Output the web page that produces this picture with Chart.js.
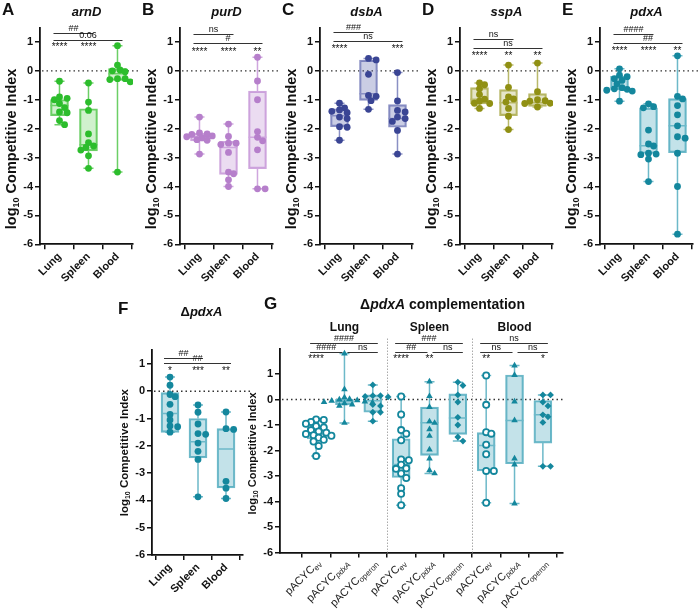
<!DOCTYPE html>
<html lang="en">
<head>
<meta charset="UTF-8">
<title>Competitive index</title>
<script src="https://cdn.jsdelivr.net/npm/chart.js"></script>
<style>
  body { margin: 0; background: #fff; }
  #fig { position: relative; width: 700px; height: 611px; overflow: hidden; }
  #fig canvas { position: absolute; }
</style>
</head>
<body>
<div id="fig"></div>
<script>
const FONT = '"Liberation Sans", Arial, sans-serif';

const organs = ['Lung', 'Spleen', 'Blood'];
const yTickVals = [1, 0, -1, -2, -3, -4, -5, -6];
const plasmids = ['ev', 'pdxA', 'operon'];

// A  arnD
const arnDLung = [-0.36, -0.9, -0.95, -1.0, -1.13, -1.27, -1.42, -1.45, -1.72, -1.86];
const arnDSpleen = [-0.42, -1.08, -1.37, -2.18, -2.48, -2.6, -2.65, -2.74, -2.94, -3.37];
const arnDBlood = [0.87, 0.2, 0.03, 0.0, -0.03, -0.27, -0.27, -0.3, -0.38, -3.5];
const arnDBox = [[-1.55, -1.2, -0.99], [-2.77, -2.56, -1.31], [-0.33, -0.1, 0.08]]; // q1, median, q3
const arnDStars = ['****', '****', ''];
const arnDTests = [[0, 1, '##', 1], [0, 2, '0.06', 0]];

// B  purD
const purDLung = [-1.6, -2.15, -2.18, -2.2, -2.25, -2.28, -2.32, -2.38, -2.4, -2.88];
const purDSpleen = [-1.84, -2.27, -2.5, -2.5, -2.55, -2.82, -3.5, -3.56, -3.77, -4.0];
const purDBlood = [0.47, -0.35, -1.0, -2.1, -2.3, -2.42, -2.73, -4.08, -4.08];
const purDBox = [[-2.42, -2.28, -2.16], [-3.58, -2.65, -2.44], [-3.38, -2.3, -0.7]];
const purDStars = ['****', '****', '**'];
const purDTests = [[0, 1, 'ns', 1], [0, 2, '#', 0]];

// C  dsbA
const dsbALung = [-1.12, -1.28, -1.35, -1.4, -1.45, -1.6, -1.65, -1.93, -1.95, -2.4];
const dsbASpleen = [0.43, 0.38, -0.12, -0.85, -0.88, -1.03, -1.33];
const dsbABlood = [-0.06, -1.04, -1.37, -1.42, -1.6, -1.65, -1.75, -2.06, -2.88];
const dsbABox = [[-1.93, -1.55, -1.31], [-1.02, -0.79, 0.37], [-1.95, -1.65, -1.17]];
const dsbAStars = ['****', '', '***'];
const dsbATests = [[0, 1, '###', 1], [0, 2, 'ns', 0]];

// D  sspA
const sspALung = [-0.42, -0.48, -0.62, -0.82, -0.98, -1.05, -1.12, -1.13, -1.3];
const sspASpleen = [0.2, -0.57, -0.9, -0.97, -1.08, -1.3, -1.57, -2.03];
const sspABlood = [0.27, -0.72, -1.0, -1.03, -1.05, -1.12, -1.13, -1.25];
const sspABox = [[-1.14, -0.98, -0.58], [-1.55, -1.1, -0.65], [-1.23, -1.1, -0.79]];
const sspAStars = ['****', '**', '**'];
const sspATests = [[0, 1, 'ns', 1], [0, 2, 'ns', 0]];

// E  pdxA
const pdxALung = [0.07, -0.15, -0.2, -0.27, -0.33, -0.45, -0.58, -0.62, -0.64, -0.67, -0.7, -1.05];
const pdxASpleen = [-1.14, -1.24, -1.28, -2.05, -2.53, -2.6, -2.85, -2.88, -2.9, -3.05, -3.83];
const pdxABlood = [0.52, -0.88, -0.97, -1.2, -1.52, -1.9, -2.28, -2.33, -2.85, -4.0, -5.65];
const pdxABox = [[-0.65, -0.58, -0.19], [-2.86, -2.59, -1.28], [-2.83, -1.9, -0.96]];
const pdxAStars = ['****', '****', '**'];
const pdxATests = [[0, 1, '####', 1], [0, 2, '##', 0]];

// F  ΔpdxA
const dPdxALung = [0.52, 0.22, -0.12, -0.2, -0.48, -0.85, -1.05, -1.27, -1.3, -1.5];
const dPdxASpleen = [-0.5, -0.77, -1.2, -1.55, -1.58, -1.9, -2.2, -2.5, -3.87];
const dPdxABlood = [-0.76, -1.37, -1.4, -3.3, -3.55, -3.93];
const dPdxABox = [[-1.51, -0.82, -0.05], [-2.44, -1.85, -1.0], [-3.54, -2.12, -1.37]];
const dPdxAStars = ['*', '***', '**'];
const dPdxATests = [[0, 1, '##', 1], [0, 2, '##', 0]];

// G  ΔpdxA complementation (Lung ev, pdxA, operon, Spleen ..., Blood ...)
const compLungEv = [-0.78, -0.8, -0.88, -0.95, -1.05, -1.1, -1.2, -1.25, -1.3, -1.35, -1.4, -1.42, -1.5, -1.58, -1.65, -1.82, -2.22];
const compLungPdxA = [1.8, 0.4, 0.08, 0.02, 0.0, -0.03, -0.05, -0.08, -0.1, -0.12, -0.15, -0.2, -0.25, -0.92];
const compLungOperon = [0.57, 0.15, 0.15, 0.12, 0.1, -0.2, -0.25, -0.5, -0.5, -0.85];
const compSpleenEv = [0.12, -0.59, -1.2, -1.34, -1.6, -2.35, -2.38, -2.56, -2.7, -2.72, -2.9, -3.08, -3.48, -3.7, -4.15];
const compSpleenPdxA = [0.7, 0.13, -0.3, -0.86, -0.92, -1.17, -1.43, -1.96, -2.32, -2.78, -2.9];
const compSpleenOperon = [0.68, 0.55, 0.18, -0.1, -0.7, -1.0, -1.47, -1.63];
const compBloodEv = [0.94, -0.21, -1.28, -1.34, -1.77, -2.15, -2.8, -2.8, -4.05];
const compBloodPdxA = [1.33, 0.96, -0.08, -0.82, -2.32, -2.55, -4.08];
const compBloodOperon = [0.18, 0.18, -0.1, -0.25, -0.6, -0.68, -0.9, -2.62, -2.62];
const compBox = [
  [-1.55, -1.35, -1.1], [-0.2, -0.08, 0.02], [-0.5, -0.05, 0.18],
  [-3.06, -2.55, -1.54], [-2.19, -0.91, -0.3], [-1.37, -0.73, 0.22],
  [-2.8, -1.8, -1.3], [-2.52, -0.82, 0.96], [-1.71, -0.6, -0.04]
];
const compStars = ['****', '', '', '****', '**', '', '**', '', '*'];
const compTests = [
  [0, 1, '####', 0], [1, 2, 'ns', 0], [0, 2, '####', 1],
  [3, 4, '##', 0], [4, 5, 'ns', 0], [3, 5, '###', 1],
  [6, 7, 'ns', 0], [7, 8, 'ns', 0], [6, 8, 'ns', 1]
];

const green = { pt: '#2cbd2c', fill: 'rgba(110,210,100,0.32)', line: '#6ccf66' };
const lilac = { pt: '#b67fcb', fill: 'rgba(190,140,210,0.3)', line: '#cfa6de' };
const navy = { pt: '#3a4594', fill: 'rgba(80,90,165,0.3)', line: '#8a90c4' };
const olive = { pt: '#909013', fill: 'rgba(150,150,40,0.25)', line: '#b9b96a' };
const teal = { pt: '#14879d', fill: 'rgba(40,150,175,0.28)', line: '#6db9c9' };

// simple beeswarm: nudge each point sideways until it no longer sits on an earlier one
function swarm(vals, center, ppx, ppy, r) {
  const placed = [];
  const out = new Array(vals.length);
  const order = vals.map((v, k) => k).sort((a, b) => vals[b] - vals[a]);
  order.forEach(k => {
    const v = vals[k];
    let dx = 0;
    for (let s = 0; s < 40; s++) {
      const off = (s % 2 ? 1 : -1) * Math.ceil(s / 2) * r * 0.75;
      if (placed.every(p => Math.hypot(p.dx - off, (p.v - v) * ppy) >= 2 * r * 0.78)) { dx = off; break; }
    }
    placed.push({ dx, v });
    out[k] = { x: center + dx / ppx, y: v };
  });
  return out;
}

function runs(ctx, parts, x, y, align) {
  let total = 0;
  parts.forEach(p => { ctx.font = p.font; p.w = ctx.measureText(p.t).width; total += p.w; });
  let cx = align === 'center' ? x - total / 2 : (align === 'right' ? x - total : x);
  ctx.textAlign = 'left';
  parts.forEach(p => { ctx.font = p.font; ctx.fillText(p.t, cx, y + (p.dy || 0)); cx += p.w; });
}

function makePanel(p) {
  const cv = document.createElement('canvas');
  cv.width = p.w; cv.height = p.h;
  cv.style.left = p.left + 'px'; cv.style.top = p.top + 'px';
  document.getElementById('fig').appendChild(cv);

  const ppx = (p.areaRight - p.areaLeft) / (p.xMax - p.xMin);
  const ppy = (p.areaBottom - p.areaTop) / (p.yMax - p.yMin);
  const col = p.color;
  const datasets = [{
    type: 'bar',
    data: p.boxes.map((b, i) => ({ x: i + 1, y: [b[0], b[2]] })),
    backgroundColor: col.fill, borderColor: col.line, borderWidth: 1.5,
    borderSkipped: false, barThickness: p.boxW, order: 2
  }];
  p.groups.forEach((vals, i) => {
    const shape = p.shapes ? p.shapes[i % p.shapes.length] : 'dot';
    const ds = {
      type: 'scatter', order: 1,
      data: swarm(vals, i + 1, ppx, ppy, 3.4),
      pointStyle: 'circle', pointRadius: 3.4,
      pointBackgroundColor: col.pt, pointBorderColor: col.pt, pointBorderWidth: 0
    };
    if (shape === 'ring') { ds.pointBackgroundColor = '#fff'; ds.pointBorderWidth = 1.8; ds.pointRadius = 3.1; }
    if (shape === 'tri') { ds.pointStyle = 'triangle'; ds.pointRadius = 3.8; }
    if (shape === 'dia') { ds.pointStyle = 'rectRot'; ds.pointRadius = 3.4; }
    datasets.push(ds);
  });

  const deco = {
    id: 'deco',
    beforeDatasetsDraw(chart) {
      const ctx = chart.ctx, a = chart.chartArea, ys = chart.scales.y, xs = chart.scales.x;
      ctx.save();
      ctx.strokeStyle = '#333'; ctx.lineWidth = 1.3; ctx.setLineDash([1.5, 3]);
      const y0 = ys.getPixelForValue(0);
      ctx.beginPath(); ctx.moveTo(a.left + 2, y0); ctx.lineTo(a.right + p.zeroExt, y0); ctx.stroke();
      if (p.separators) {
        ctx.strokeStyle = '#aaa'; ctx.lineWidth = 1; ctx.setLineDash([1.5, 1.5]);
        p.separators.forEach(v => {
          const x = Math.round(xs.getPixelForValue(v)) + 0.5;
          ctx.beginPath(); ctx.moveTo(x, a.top - 10); ctx.lineTo(x, a.bottom); ctx.stroke();
        });
      }
      ctx.restore();
    },
    afterDatasetDraw(chart, args) {
      if (args.index !== 0) return;
      const ctx = chart.ctx, xs = chart.scales.x, ys = chart.scales.y;
      ctx.save();
      ctx.strokeStyle = col.line; ctx.lineWidth = 1.5;
      p.boxes.forEach((b, i) => {
        const x = xs.getPixelForValue(i + 1);
        const lo = Math.min(...p.groups[i]), hi = Math.max(...p.groups[i]);
        const yLo = ys.getPixelForValue(lo), yHi = ys.getPixelForValue(hi);
        ctx.beginPath();
        ctx.moveTo(x, yHi); ctx.lineTo(x, ys.getPixelForValue(b[2]));
        ctx.moveTo(x, ys.getPixelForValue(b[0])); ctx.lineTo(x, yLo);
        ctx.moveTo(x - 5, yHi); ctx.lineTo(x + 5, yHi);
        ctx.moveTo(x - 5, yLo); ctx.lineTo(x + 5, yLo);
        const ym = ys.getPixelForValue(b[1]);
        ctx.moveTo(x - p.boxW / 2, ym); ctx.lineTo(x + p.boxW / 2, ym);
        ctx.stroke();
      });
      ctx.restore();
    },
    afterDraw(chart) {
      const ctx = chart.ctx, a = chart.chartArea, xs = chart.scales.x, ys = chart.scales.y;
      ctx.save();
      ctx.fillStyle = '#111';
      ctx.textBaseline = 'middle';
      // panel letter
      ctx.font = `bold 17px ${FONT}`; ctx.textAlign = 'left';
      ctx.fillText(p.letter, p.letterX, p.letterY);
      // title
      const tf = `bold ${p.titleSize}px ${FONT}`, tfi = `italic bold ${p.titleSize}px ${FONT}`;
      const parts = p.title.map(t => ({ t: t[0], font: t[1] ? tfi : tf }));
      runs(ctx, parts, (a.left + a.right) / 2 + p.titleDx, p.titleY, 'center');
      // y-axis title
      ctx.save();
      ctx.translate(a.left - p.yTitleOff, (a.top + a.bottom) / 2 + p.yTitleDy);
      ctx.rotate(-Math.PI / 2);
      const s = p.yTitleSize;
      runs(ctx, [
        { t: 'log', font: `bold ${s}px ${FONT}` },
        { t: '10', font: `bold ${Math.round(s * 0.62)}px ${FONT}`, dy: s * 0.3 },
        { t: ' Competitive Index', font: `bold ${s}px ${FONT}` }
      ], 0, 0, 'center');
      ctx.restore();
      // group labels (G)
      if (p.groupLabels) {
        ctx.font = `bold 12px ${FONT}`; ctx.textAlign = 'center';
        p.groupLabels.forEach((g, k) => ctx.fillText(g, xs.getPixelForValue(k * 3 + 2), a.top - 21));
      }
      // significance lines and stars
      ctx.strokeStyle = '#333'; ctx.lineWidth = 1;
      ctx.font = `9px ${FONT}`; ctx.textAlign = 'center';
      p.tests.forEach(t => {
        const [i, j, lab, lv] = t;
        const y = Math.round(ys.getPixelForValue(p.testLevels[lv])) + 0.5;
        const leftNb = p.tests.some(o => o !== t && o[3] === lv && o[1] === i);
        const rightNb = p.tests.some(o => o !== t && o[3] === lv && o[0] === j);
        const x1 = xs.getPixelForValue(i + 1) + (leftNb ? 3 : -6);
        const x2 = xs.getPixelForValue(j + 1) + (rightNb ? -2 : 5);
        ctx.beginPath(); ctx.moveTo(x1, y); ctx.lineTo(x2, y); ctx.stroke();
        ctx.textBaseline = 'bottom';
        ctx.fillText(lab, (x1 + x2) / 2, y - 0.5);
      });
      ctx.textBaseline = 'middle';
      ctx.font = `10px ${FONT}`;
      p.stars.forEach((st, i) => {
        if (st) ctx.fillText(st, xs.getPixelForValue(i + 1), ys.getPixelForValue(p.starY) + 2.5);
      });
      // rotated plasmid labels (G)
      if (p.subLabels) {
        ctx.fillStyle = '#222';
        p.subLabels.forEach((sub, i) => {
          ctx.save();
          ctx.translate(xs.getPixelForValue(i + 1) + 3, a.bottom + 9);
          ctx.rotate(-Math.PI / 4);
          ctx.textBaseline = 'middle';
          runs(ctx, [
            { t: 'pACYC', font: `11px ${FONT}` },
            { t: sub, font: `${sub === 'pdxA' ? 'italic ' : ''}8px ${FONT}`, dy: 3 }
          ], 0, 0, 'right');
          ctx.restore();
        });
      }
      ctx.restore();
    }
  };

  return new Chart(cv, {
    type: 'bar',
    data: { datasets },
    options: {
      responsive: false, animation: false, devicePixelRatio: 1,
      layout: { padding: { left: 0, right: p.w - p.areaRight, top: p.areaTop, bottom: 0 } },
      plugins: { legend: { display: false }, tooltip: { enabled: false } },
      scales: {
        x: {
          type: 'linear', offset: false, min: p.xMin, max: p.xMax,
          afterBuildTicks: sc => { sc.ticks = p.groups.map((g, i) => ({ value: i + 1 })); },
          afterFit: sc => { sc.height = p.h - p.areaBottom; },
          grid: { display: true, drawOnChartArea: false, drawTicks: true, tickLength: 5, color: '#111', lineWidth: 1.5 },
          border: { display: true, color: '#111', width: 1.8 },
          ticks: {
            autoSkip: false, minRotation: 45, maxRotation: 45, padding: 1, color: '#111',
            font: { family: FONT, size: 11, weight: 'bold' },
            callback: (v, idx) => p.xLabels ? p.xLabels[idx] : ''
          }
        },
        y: {
          type: 'linear', min: p.yMin, max: p.yMax, beginAtZero: false,
          afterBuildTicks: sc => { sc.ticks = yTickVals.map(v => ({ value: v })); },
          afterFit: sc => { sc.width = p.areaLeft; },
          grid: { display: true, drawOnChartArea: false, drawTicks: true, tickLength: 5, color: '#111', lineWidth: 1.5 },
          border: { display: true, color: '#111', width: 1.8 },
          ticks: { padding: 2, color: '#111', font: { family: FONT, size: 11, weight: 'bold' }, callback: v => String(v) }
        }
      }
    },
    plugins: [deco]
  });
}

const topRow = {
  top: 0, w: 140, h: 300, areaLeft: 40, areaRight: 133, areaTop: 27.5, areaBottom: 244.3,
  yMin: -6, yMax: 1.5, xMin: 0.328, xMax: 3.535, boxW: 18, zeroExt: 9,
  letterX: 2, letterY: 10, titleY: 12, titleDx: 0, titleSize: 13,
  yTitleOff: 28, yTitleDy: 13, yTitleSize: 14.5, xLabels: organs
};

makePanel(Object.assign({}, topRow, { left: 0, letter: 'A', title: [['arnD', true]], color: green,
  groups: [arnDLung, arnDSpleen, arnDBlood], boxes: arnDBox, stars: arnDStars, tests: arnDTests,
  testLevels: [1.07, 1.32], starY: 0.9 }));
makePanel(Object.assign({}, topRow, { left: 140, letter: 'B', title: [['purD', true]], color: lilac,
  groups: [purDLung, purDSpleen, purDBlood], boxes: purDBox, stars: purDStars, tests: purDTests,
  testLevels: [0.95, 1.27], starY: 0.74 }));
makePanel(Object.assign({}, topRow, { left: 280, letter: 'C', title: [['dsbA', true]], color: navy,
  groups: [dsbALung, dsbASpleen, dsbABlood], boxes: dsbABox, stars: dsbAStars, tests: dsbATests,
  testLevels: [1.05, 1.34], starY: 0.84 }));
makePanel(Object.assign({}, topRow, { left: 420, letter: 'D', title: [['sspA', true]], color: olive,
  groups: [sspALung, sspASpleen, sspABlood], boxes: sspABox, stars: sspAStars, tests: sspATests,
  testLevels: [0.78, 1.09], starY: 0.6 }));
makePanel(Object.assign({}, topRow, { left: 560, letter: 'E', title: [['pdxA', true]], color: teal,
  groups: [pdxALung, pdxASpleen, pdxABlood], boxes: pdxABox, stars: pdxAStars, tests: pdxATests,
  testLevels: [0.98, 1.28], starY: 0.78 }));

makePanel({
  left: 100, top: 290, w: 150, h: 321, areaLeft: 52, areaRight: 143, areaTop: 60.3, areaBottom: 265,
  yMin: -6, yMax: 1.5, xMin: 0.357, xMax: 3.607, boxW: 18, zeroExt: 8,
  letter: 'F', letterX: 18, letterY: 19, title: [['\u0394', false], ['pdxA', true]], titleY: 22, titleDx: 4, titleSize: 13,
  yTitleOff: 27, yTitleDy: 0, yTitleSize: 11.5, xLabels: organs, color: teal,
  groups: [dPdxALung, dPdxASpleen, dPdxABlood], boxes: dPdxABox, stars: dPdxAStars, tests: dPdxATests,
  testLevels: [1.05, 1.23], starY: 0.84
});

makePanel({
  left: 240, top: 290, w: 460, h: 321, areaLeft: 40, areaRight: 323, areaTop: 58.5, areaBottom: 262.5,
  yMin: -6, yMax: 2, xMin: -0.274, xMax: 9.71, boxW: 18, zeroExt: 0,
  letter: 'G', letterX: 24, letterY: 14,
  title: [['\u0394', false], ['pdxA', true], [' complementation', false]], titleY: 15, titleDx: 21, titleSize: 14,
  yTitleOff: 27, yTitleDy: 3, yTitleSize: 11, color: teal,
  shapes: ['ring', 'tri', 'dia'],
  groups: [compLungEv, compLungPdxA, compLungOperon, compSpleenEv, compSpleenPdxA, compSpleenOperon,
    compBloodEv, compBloodPdxA, compBloodOperon],
  boxes: compBox, stars: compStars, tests: compTests, testLevels: [1.88, 2.22], starY: 1.69,
  separators: [3.5, 6.5], groupLabels: organs,
  subLabels: organs.flatMap(() => plasmids)
});
</script>
</body>
</html>
